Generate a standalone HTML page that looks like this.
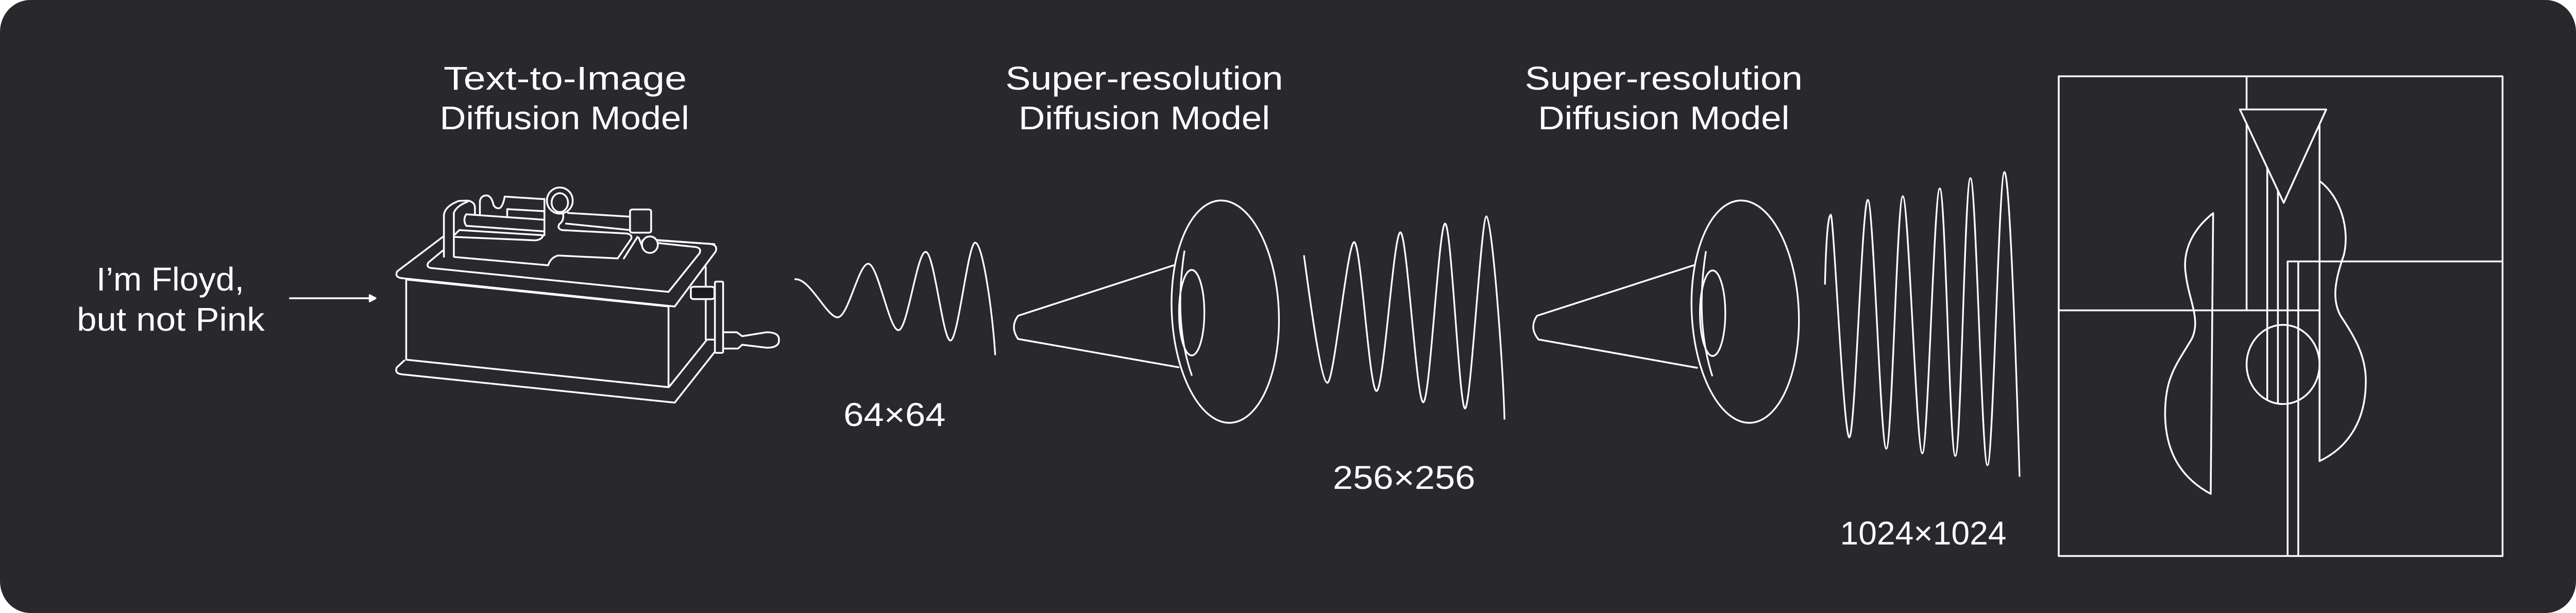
<!DOCTYPE html>
<html><head><meta charset="utf-8"><style>
html,body{margin:0;padding:0;background:#fff;width:100vw;height:100vh;overflow:hidden;}
svg{display:block;width:100vw;height:100vh;}
</style></head><body>
<svg viewBox="0 0 5296 1190" preserveAspectRatio="none" xmlns="http://www.w3.org/2000/svg">
<rect x="0" y="0" width="5296" height="1190" rx="62" ry="62" fill="#28282d"/>
<g font-family="'Liberation Sans', sans-serif" fill="#ffffff" font-size="64" text-anchor="start">
<text x="912" y="174" textLength="500" lengthAdjust="spacingAndGlyphs">Text-to-Image</text>
<text x="904" y="251" textLength="513" lengthAdjust="spacingAndGlyphs">Diffusion Model</text>
<text x="2067" y="174" textLength="571" lengthAdjust="spacingAndGlyphs">Super-resolution</text>
<text x="2094" y="251" textLength="517" lengthAdjust="spacingAndGlyphs">Diffusion Model</text>
<text x="3135" y="174" textLength="571" lengthAdjust="spacingAndGlyphs">Super-resolution</text>
<text x="3162" y="251" textLength="517" lengthAdjust="spacingAndGlyphs">Diffusion Model</text>
<text x="198" y="564" textLength="304" lengthAdjust="spacingAndGlyphs">I’m Floyd,</text>
<text x="158" y="642" textLength="386" lengthAdjust="spacingAndGlyphs">but not Pink</text>
<text x="1734" y="827" textLength="210" lengthAdjust="spacingAndGlyphs">64×64</text>
<text x="2740" y="949" textLength="293" lengthAdjust="spacingAndGlyphs">256×256</text>
<text x="3783" y="1057" textLength="342" lengthAdjust="spacingAndGlyphs">1024×1024</text>
</g>
<g stroke="#ffffff" fill="none" stroke-width="3.5" stroke-linecap="round" stroke-linejoin="round">
<line x1="596" y1="579" x2="762" y2="579"/>
<path d="M760,573 L772,579 L760,585 Z" fill="#fff"/>
<g transform="translate(780,300) scale(0.5102,0.3333)">
<path vector-effect="non-scaling-stroke" d="M108,728 L1165,885 L1165,1355 L108,1195 Z"/>
<path vector-effect="non-scaling-stroke" d="M255,480 L72,680 Q60,715 90,720 L1190,885 L1355,565 Q1365,525 1330,520 L1120,498"/>
<path vector-effect="non-scaling-stroke" d="M255,560 L198,628 Q185,660 215,662 L1165,800 L1290,575 Q1300,542 1270,538 L1120,515"/>
<path vector-effect="non-scaling-stroke" d="M100,1200 L70,1240 Q60,1275 90,1280 L1190,1445 L1350,1152"/>
<path vector-effect="non-scaling-stroke" d="M1320,1078 L1168,1352"/>
<path vector-effect="non-scaling-stroke" d="M1315,655 L1315,1078 L1352,1078"/>
<rect vector-effect="non-scaling-stroke" x="1255" y="770" width="95" height="72" rx="12" fill="#1c1c20"/>
<rect vector-effect="non-scaling-stroke" x="1352" y="740" width="33" height="415" rx="6"/>
<path vector-effect="non-scaling-stroke" d="M1385,1035 L1440,1035 L1462,1058 L1560,1035 Q1612,1035 1610,1080 Q1612,1125 1560,1125 L1462,1108 L1445,1130 L1385,1130"/>
<path vector-effect="non-scaling-stroke" d="M260,595 L260,350 Q265,300 320,270 L355,268 Q385,275 385,310 L385,350"/>
<path vector-effect="non-scaling-stroke" d="M300,595 L300,340 Q310,300 355,275"/>
<path vector-effect="non-scaling-stroke" d="M665,380 L350,348 Q335,380 350,415 L660,447"/>
<path vector-effect="non-scaling-stroke" d="M305,465 L322,440 L660,470 M305,480 L630,500 Q655,495 660,470"/>
<path vector-effect="non-scaling-stroke" d="M405,350 L405,270 Q410,238 432,238 Q452,240 460,295 Q470,318 485,312 Q498,300 505,245 L665,260"/>
<path vector-effect="non-scaling-stroke" d="M515,355 L515,318 L665,330"/>
<path vector-effect="non-scaling-stroke" d="M665,258 L665,470"/>
<ellipse vector-effect="non-scaling-stroke" cx="727" cy="268" rx="52" ry="76"/>
<ellipse vector-effect="non-scaling-stroke" cx="727" cy="280" rx="33" ry="55"/>
<path vector-effect="non-scaling-stroke" d="M760,340 L1010,362 M752,402 L1010,440"/>
<path vector-effect="non-scaling-stroke" d="M740,345 Q745,385 725,405 Q715,430 735,440 L1000,460"/>
<rect vector-effect="non-scaling-stroke" x="1010" y="320" width="85" height="135" rx="10"/>
<path vector-effect="non-scaling-stroke" d="M305,597 L680,645 Q690,600 720,588 L960,605 L1015,490 Q1020,465 995,460"/>
<path vector-effect="non-scaling-stroke" d="M985,605 L1040,480 M1045,485 L1060,538 M1060,540 L1060,500"/>
<ellipse vector-effect="non-scaling-stroke" cx="1090" cy="525" rx="32" ry="48" fill="#28282d"/>
<path vector-effect="non-scaling-stroke" d="M1120,500 L1350,522"/>
</g>
<path d="M1635,542 C1665,540 1700,616 1722,616 S1765,512 1785,512 S1828,641 1847,641 S1885,489 1903,489 S1938,661 1954,661 S1990,471 2005,471 S2040,600 2046,688"/>
<path d="M2681,497 C2690,560 2715,743 2729,743 S2770,470 2784,470 S2815,759 2830,759 S2865,451 2879,451 S2912,781 2926,781 S2958,434 2971,434 S3000,793 3012,793 S3045,420 3056,420 S3090,700 3093,813"/>
<path d="M3752,551 C3754,470 3758,417 3764,417 S3790,849 3802,849 S3828,388 3840,388 S3866,871 3878,871 S3900,381 3912,381 S3940,880 3952,880 S3976,366 3988,366 S4008,885 4020,885 S4039,346 4051,346 S4074,903 4086,903 S4109,334 4121,334 S4148,800 4152,924"/>
<ellipse cx="2519" cy="605" rx="110" ry="216" transform="rotate(-3 2519 605)"/>
<ellipse cx="2450" cy="607" rx="26" ry="83"/>
<path d="M2435,488 C2420,580 2425,660 2450,728"/>
<path d="M2413,515 L2093,613 Q2076,635 2093,658 L2423,713"/>
<ellipse cx="3588" cy="605" rx="110" ry="216" transform="rotate(-3 3588 605)"/>
<ellipse cx="3521" cy="608" rx="26" ry="83"/>
<path d="M3507,489 C3492,580 3497,660 3520,729"/>
<path d="M3482,515 L3160,613 Q3143,636 3163,659 L3489,714"/>
<g transform="translate(4200,120) scale(0.625)">
<rect vector-effect="non-scaling-stroke" x="52" y="45" width="1460" height="1490"/>
<path vector-effect="non-scaling-stroke" d="M52,772 L910,772 M670,45 L670,772 M805,1535 L805,620 L1512,620 M840,620 L840,1535 M910,150 L910,1240 M738,330 L738,1050 M773,400 L773,1060"/>
<path vector-effect="non-scaling-stroke" d="M648,148 L932,148 L792,438 Z" fill="#28282d"/>
<ellipse vector-effect="non-scaling-stroke" cx="790" cy="940" rx="120" ry="123"/>
<path vector-effect="non-scaling-stroke" d="M560,470 L552,1342 C470,1300 405,1230 402,1100 C400,980 440,940 490,860 C520,800 480,740 470,660 C460,600 480,530 560,470 Z"/>
<path vector-effect="non-scaling-stroke" d="M910,370 C980,420 1010,520 990,600 C960,680 950,740 980,790 C1030,860 1065,920 1062,1000 C1060,1120 1000,1200 910,1240"/>
</g>
</g>
</svg>
</body></html>
